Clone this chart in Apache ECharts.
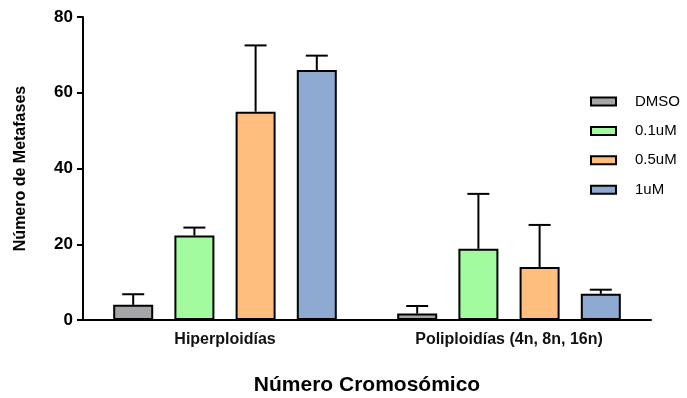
<!DOCTYPE html>
<html>
<head>
<meta charset="utf-8">
<script src="https://cdn.jsdelivr.net/npm/echarts@6/dist/echarts.min.js"></script>
<style>
  html, body { margin: 0; padding: 0; background: #fff; }
  #chart { width: 687px; height: 398px; }
</style>
</head>
<body>
<div id="chart"></div>
<script>
// Categories and groups
const categories = ['Hiperploidías', 'Poliploidías (4n, 8n, 16n)'];
const groupNames = ['DMSO', '0.1uM', '0.5uM', '1uM'];

// Mean number of metaphases per group (one value per category)
const dmsoMean = [4.0, 1.7];
const uM01Mean = [22.3, 18.8];
const uM05Mean = [55.0, 14.0];
const uM1Mean  = [66.0, 6.9];

// Upper error bar length per group
const dmsoErr = [2.8, 2.0];
const uM01Err = [2.1, 14.5];
const uM05Err = [17.5, 11.1];
const uM1Err  = [3.8, 1.1];

const yTicks = { min: 0, max: 80, interval: 20 };

const means = [dmsoMean, uM01Mean, uM05Mean, uM1Mean];
const errs = [dmsoErr, uM01Err, uM05Err, uM1Err];
const colors = ['#A6A6A9', '#A2FC9E', '#FEBF7E', '#8EAAD2'];

const BAR_W = 40;
const GAP_RATIO = 0.53;
const CAP_W = 22;

function barOffset(i, n) {
  const gap = BAR_W * GAP_RATIO;
  const total = n * BAR_W + (n - 1) * gap;
  return -total / 2 + BAR_W / 2 + i * (BAR_W + gap);
}

const chart = echarts.init(document.getElementById('chart'));

const series = [];
groupNames.forEach((name, i) => {
  series.push({
    name: name,
    type: 'bar',
    barWidth: BAR_W,
    barGap: (GAP_RATIO * 100) + '%',
    data: means[i],
    itemStyle: { color: colors[i], borderColor: '#000', borderWidth: 2 },
    z: 2
  });
});
groupNames.forEach((name, i) => {
  series.push({
    name: name + ' error',
    type: 'custom',
    z: 3,
    data: means[i].map((m, c) => [c, m, m + errs[i][c]]),
    renderItem: function (params, api) {
      const base = api.coord([api.value(0), api.value(1)]);
      const top = api.coord([api.value(0), api.value(2)]);
      const x = base[0] + barOffset(i, groupNames.length);
      const style = { stroke: '#000', lineWidth: 2 };
      return {
        type: 'group',
        children: [
          { type: 'line', shape: { x1: x, y1: base[1], x2: x, y2: top[1] }, style: style },
          { type: 'line', shape: { x1: x - CAP_W / 2, y1: top[1], x2: x + CAP_W / 2, y2: top[1] }, style: style }
        ]
      };
    }
  });
});

chart.setOption({
  animation: false,
  backgroundColor: '#fff',
  grid: { left: 83, right: 36, top: 17, bottom: 78, containLabel: false, outerBoundsMode: 'none' },
  legend: {
    data: groupNames,
    orient: 'vertical',
    left: 585,
    top: 89,
    icon: 'rect',
    itemWidth: 25,
    itemHeight: 8,
    itemGap: 14.4,
    textStyle: { fontFamily: 'Liberation Sans, Arial', fontSize: 15, lineHeight: 15, color: '#000', padding: [0, 0, 0, 14] }
  },
  xAxis: {
    type: 'category',
    data: categories,
    name: 'Número Cromosómico',
    nameLocation: 'middle',
    nameGap: 55,
    nameTextStyle: { fontFamily: 'Liberation Sans, Arial', fontSize: 21, fontWeight: 'bold', color: '#000' },
    axisLine: { lineStyle: { color: '#000', width: 2 } },
    axisTick: { alignWithLabel: true, length: 7, lineStyle: { color: '#000', width: 2 } },
    axisLabel: { fontFamily: 'Liberation Sans, Arial', fontSize: 16, fontWeight: 'bold', color: '#111', margin: 12 }
  },
  yAxis: {
    type: 'value',
    min: yTicks.min,
    max: yTicks.max,
    interval: yTicks.interval,
    name: 'Número de Metafases',
    nameLocation: 'middle',
    nameGap: 54,
    nameTextStyle: { fontFamily: 'Liberation Sans, Arial', fontSize: 16, fontWeight: 'bold', color: '#000' },
    axisLine: { show: true, lineStyle: { color: '#000', width: 2 } },
    axisTick: { show: true, length: 6, lineStyle: { color: '#000', width: 2 } },
    axisLabel: { fontFamily: 'Liberation Sans, Arial', fontSize: 17, fontWeight: 'bold', color: '#000', margin: 10 },
    splitLine: { show: false }
  },
  series: series
});
</script>
</body>
</html>
